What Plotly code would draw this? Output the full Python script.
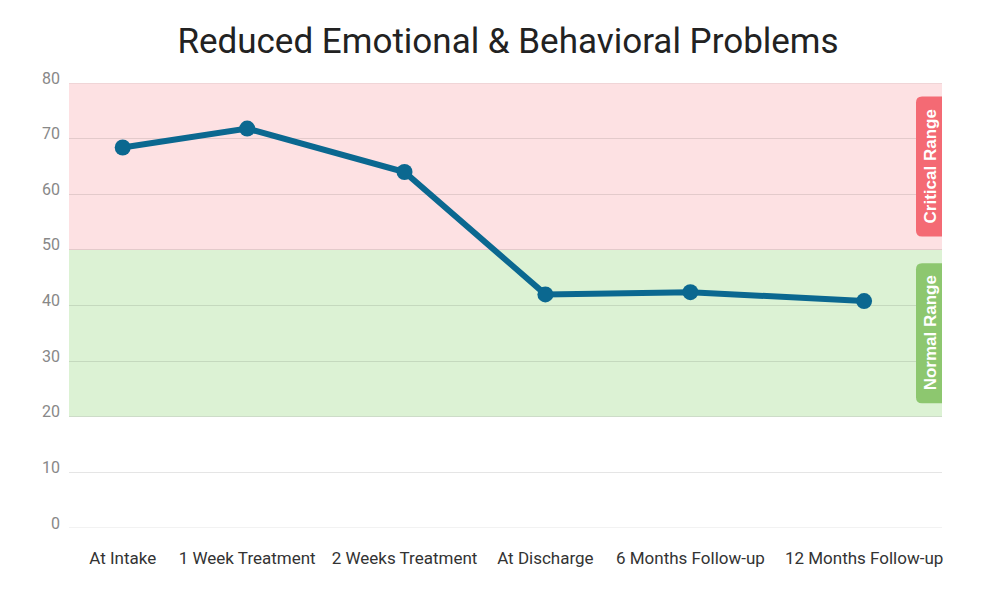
import plotly.graph_objects as go

# ---- data ----
categories = ["At Intake", "1 Week Treatment", "2 Weeks Treatment",
              "At Discharge", "6 Months Follow-up", "12 Months Follow-up"]
scores = [68.4, 71.8, 64.0, 42.0, 42.4, 40.8]
y_ticks = [0, 10, 20, 30, 40, 50, 60, 70, 80]
critical_range = [50, 80]
normal_range = [20, 50]
range_labels = ["Critical Range", "Normal Range"]

# ---- layout helpers: category positions follow label widths (labels packed with equal gaps) ----
PLOT_W = 873          # pixel width of plot area (x axis spans these units)
CHAR_W = 8.2
GAP = 22
widths = [len(c) * CHAR_W for c in categories]
total = sum(widths) + GAP * (len(categories) - 1)
start = PLOT_W - total
x_pos = []
cur = start
for w in widths:
    x_pos.append(cur + w / 2)
    cur += w + GAP

GRID = "rgba(0,0,0,0.1)"

fig = go.Figure()
fig.add_trace(go.Scatter(
    x=x_pos, y=scores, mode="lines+markers",
    line=dict(color="#0b6890", width=6),
    marker=dict(color="#0b6890", size=16),
    hoverinfo="skip", showlegend=False,
))

# bands
fig.add_shape(type="rect", xref="paper", x0=0, x1=1, yref="y",
              y0=critical_range[0], y1=critical_range[1],
              fillcolor="#fde1e3", line_width=0, layer="below")
fig.add_shape(type="rect", xref="paper", x0=0, x1=1, yref="y",
              y0=normal_range[0], y1=normal_range[1],
              fillcolor="#dcf2d4", line_width=0, layer="below")

# edge grid lines (plotly omits grid lines at the range ends)
for yv in (y_ticks[0], y_ticks[-1]):
    fig.add_shape(type="line", xref="paper", x0=0, x1=1, yref="y", y0=yv, y1=yv,
                  line=dict(color=GRID, width=1), layer="between")

# tags
tag_path = "M 0,-70 L -20,-70 Q -26,-70 -26,-64 L -26,64 Q -26,70 -20,70 L 0,70 Z"
for rng, col, lab in [(critical_range, "#f46a74", range_labels[0]),
                      (normal_range, "#8dc76f", range_labels[1])]:
    mid = (rng[0] + rng[1]) / 2
    fig.add_shape(type="path", xref="paper", yref="y",
                  xsizemode="pixel", ysizemode="pixel",
                  xanchor=1, yanchor=mid, path=tag_path,
                  fillcolor=col, line_width=0, layer="above")
    fig.add_annotation(x=1, xref="paper", y=mid, yref="y", text="<b>" + lab + "</b>",
                       textangle=-90, showarrow=False, xanchor="center",
                       yanchor="middle", xshift=-12,
                       font=dict(family="Liberation Sans", size=17, color="white"))

fig.update_layout(
    width=1000, height=601,
    paper_bgcolor="white", plot_bgcolor="white",
    margin=dict(l=61, r=66, t=75, b=81),
    title=dict(text="Reduced Emotional & Behavioral Problems",
               x=0.5, xanchor="center", y=0.945, yanchor="middle",
               font=dict(family="Roboto", size=35, color="#222222")),
    font=dict(family="Roboto"),
)
fig.update_xaxes(range=[0, PLOT_W], tickvals=x_pos, ticktext=categories,
                 showgrid=False, zeroline=False, showline=False,
                 tickfont=dict(family="Roboto", size=17, color="#333333"),
                 ticklabelstandoff=18, fixedrange=True)
fig.update_yaxes(range=[0, 80], tickvals=y_ticks, showgrid=True,
                 gridcolor=GRID, gridwidth=1, zeroline=False, showline=False,
                 tickfont=dict(family="Roboto", size=16, color="#888888"),
                 ticklabelstandoff=8, ticklabelshift=-5, fixedrange=True)

fig.write_html("out.html")
